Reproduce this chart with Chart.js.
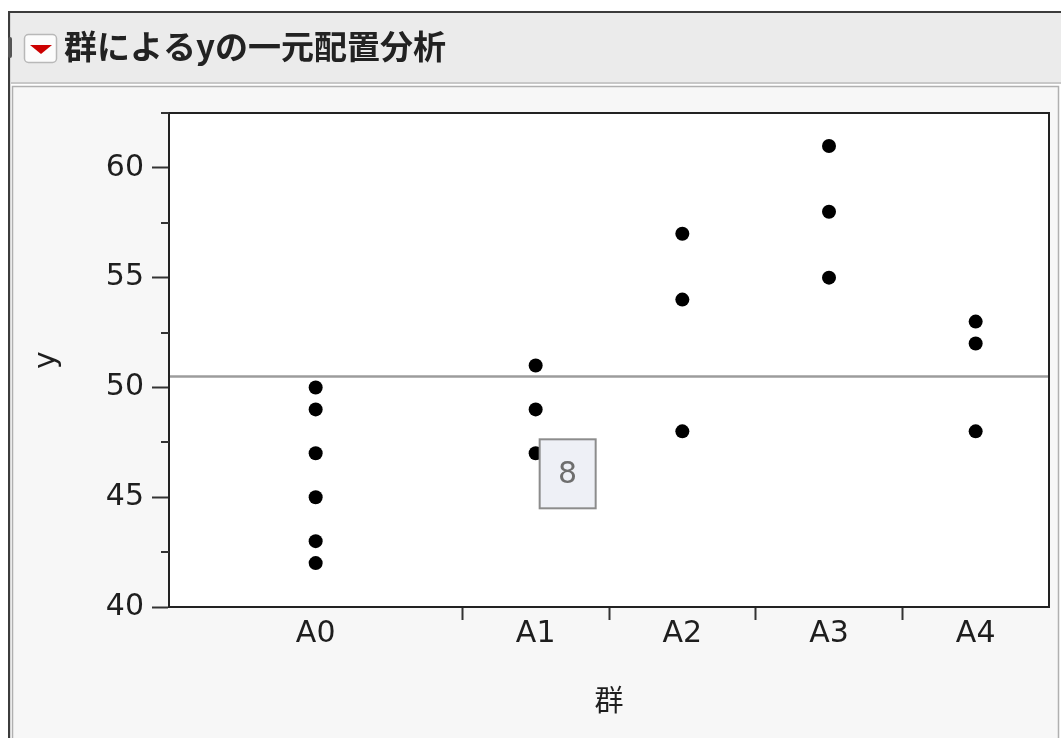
<!DOCTYPE html>
<html>
<head>
<meta charset="utf-8">
<script src="https://cdn.jsdelivr.net/npm/chart.js@4"></script>
<style>
  html, body { margin: 0; padding: 0; background: #ffffff; }
  canvas { display: block; }
</style>
</head>
<body>
<canvas id="c" width="1061" height="738"></canvas>
<script>
// ---- data ----
const groupNames = ['A0', 'A1', 'A2', 'A3', 'A4'];
const valuesA0 = [50, 49, 47, 45, 43, 42];
const valuesA1 = [51, 49, 47];
const valuesA2 = [57, 54, 48];
const valuesA3 = [61, 58, 55];
const valuesA4 = [53, 52, 48];
const yTickValues = [40, 45, 50, 55, 60];
const yMinorTickValues = [42.5, 47.5, 52.5, 57.5, 62.5];
const yMin = 40;
const yMax = 62.5;
const hoverGroup = 'A1';
const hoverValue = 47;
const hoverText = '8';
const titleText = '群によるyの一元配置分析';
const xTitleText = '群';
const yTitleText = 'y';

// ---- derived structures ----
const groupValues = [valuesA0, valuesA1, valuesA2, valuesA3, valuesA4];
const counts = groupValues.map(a => a.length);
const total = counts.reduce((s, n) => s + n, 0);
const starts = [];
let acc = 0;
counts.forEach(n => { starts.push(acc); acc += n; });
const centers = counts.map((n, i) => starts[i] + n / 2);
const boundaries = starts.slice(1);
const allValues = groupValues.flat();
const grandMean = allValues.reduce((s, v) => s + v, 0) / allValues.length;

const pointData = [];
groupValues.forEach((arr, i) => arr.forEach(v => pointData.push({ x: centers[i], y: v })));

const TICK_FONT = { family: 'DejaVu Sans', size: 30 };
const TEXT_COLOR = '#1e1e1e';

const framePlugin = {
  id: 'frame',
  beforeDraw(chart) {
    const ctx = chart.ctx;
    const W = chart.width, H = chart.height;
    ctx.save();
    ctx.fillStyle = '#ffffff';
    ctx.fillRect(0, 0, W, H);
    // title bar
    ctx.fillStyle = '#ebebeb';
    ctx.fillRect(10, 13, W - 10, 70);
    ctx.fillStyle = '#c8c8c8';
    ctx.fillRect(10, 82, W - 10, 2);
    // content panel
    ctx.fillStyle = '#f7f7f7';
    ctx.fillRect(12, 86, W - 14, H - 86);
    ctx.strokeStyle = '#b0b0b0';
    ctx.lineWidth = 1.5;
    ctx.beginPath();
    ctx.moveTo(12.5, H);
    ctx.lineTo(12.5, 86.5);
    ctx.lineTo(W - 2.5, 86.5);
    ctx.lineTo(W - 2.5, H);
    ctx.stroke();
    // outer dark border
    ctx.fillStyle = '#3c3c3c';
    ctx.fillRect(8, 11, W - 8, 2);
    ctx.fillRect(8, 11, 2, H - 11);
    ctx.fillStyle = '#d6d6d6';
    ctx.fillRect(10, 13, 1, H - 13);
    // small outline bracket at the left
    ctx.fillStyle = '#555555';
    ctx.beginPath();
    ctx.roundRect(8, 37, 4, 21, 2);
    ctx.fill();
    // disclosure button with red triangle
    ctx.fillStyle = '#fcfcfc';
    ctx.strokeStyle = '#b8b8b8';
    ctx.lineWidth = 1.5;
    ctx.beginPath();
    ctx.roundRect(24.5, 34.5, 32, 28, 4);
    ctx.fill();
    ctx.stroke();
    ctx.fillStyle = '#cc0000';
    ctx.beginPath();
    ctx.moveTo(30, 45);
    ctx.lineTo(52, 45);
    ctx.lineTo(41, 54);
    ctx.closePath();
    ctx.fill();
    // title text
    ctx.fillStyle = '#222222';
    ctx.font = 'bold 33px "Noto Sans CJK JP"';
    ctx.textBaseline = 'middle';
    ctx.textAlign = 'left';
    ctx.fillText(titleText, 64, 46);
    // plot background
    const a = chart.chartArea;
    ctx.fillStyle = '#ffffff';
    ctx.fillRect(a.left, a.top, a.right - a.left, a.bottom - a.top);
    ctx.restore();
  },
  afterDraw(chart) {
    const ctx = chart.ctx;
    const a = chart.chartArea;
    const ys = chart.scales.y;
    ctx.save();
    // plot frame
    ctx.strokeStyle = '#222222';
    ctx.lineWidth = 2;
    ctx.strokeRect(a.left, a.top, a.right - a.left, a.bottom - a.top);
    // minor y ticks
    ctx.strokeStyle = '#333333';
    yMinorTickValues.forEach(v => {
      const py = Math.round(ys.getPixelForValue(v));
      ctx.beginPath();
      ctx.moveTo(a.left - 8, py);
      ctx.lineTo(a.left, py);
      ctx.stroke();
    });
    // hover label box
    const xs = chart.scales.x;
    const gi = groupNames.indexOf(hoverGroup);
    const px = xs.getPixelForValue(centers[gi]);
    const py = ys.getPixelForValue(hoverValue);
    const bx = px + 4, by = py - 14, bw = 56, bh = 69;
    ctx.fillStyle = '#eef0f6';
    ctx.fillRect(bx, by, bw, bh);
    ctx.strokeStyle = '#8c8c8c';
    ctx.lineWidth = 2;
    ctx.strokeRect(bx, by, bw, bh);
    ctx.fillStyle = '#6e6e6e';
    ctx.font = '30px "DejaVu Sans"';
    ctx.textAlign = 'center';
    ctx.textBaseline = 'middle';
    ctx.fillText(hoverText, bx + bw / 2, by + bh / 2 + 1);
    ctx.restore();
  }
};

new Chart(document.getElementById('c'), {
  type: 'scatter',
  data: {
    datasets: [
      {
        label: 'y',
        data: pointData,
        pointRadius: 7,
        pointHoverRadius: 7,
        backgroundColor: '#000000',
        borderWidth: 0,
        order: 0
      },
      {
        type: 'line',
        label: 'mean',
        data: [{ x: 0, y: grandMean }, { x: total, y: grandMean }],
        borderColor: '#9c9c9c',
        borderWidth: 2.5,
        pointRadius: 0,
        order: 1
      }
    ]
  },
  options: {
    responsive: false,
    animation: false,
    events: [],
    layout: { padding: { left: 29, top: 113, right: 12, bottom: 21 } },
    plugins: {
      legend: { display: false },
      tooltip: { enabled: false },
      title: { display: false }
    },
    scales: {
      x: {
        type: 'linear',
        min: 0,
        max: total,
        position: 'bottom',
        afterBuildTicks: s => {
          s.ticks = [...boundaries, ...centers].sort((p, q) => p - q).map(v => ({ value: v }));
        },
        afterFit: s => { s.height = 110; },
        ticks: {
          autoSkip: false,
          maxRotation: 0,
          minRotation: 0,
          padding: -4,
          color: TEXT_COLOR,
          font: TICK_FONT,
          callback: v => {
            const i = centers.indexOf(v);
            return i >= 0 ? groupNames[i] : '';
          }
        },
        grid: {
          drawOnChartArea: false,
          drawTicks: true,
          tickLength: 13,
          tickWidth: 2,
          tickColor: c => (c.tick && boundaries.includes(c.tick.value)) ? '#333333' : 'rgba(0,0,0,0)'
        },
        border: { display: true, color: '#222222', width: 2 },
        title: {
          display: true,
          text: xTitleText,
          color: TEXT_COLOR,
          font: { family: 'Noto Sans CJK JP', size: 29 },
          padding: { top: 0, bottom: 0 }
        }
      },
      y: {
        type: 'linear',
        min: yMin,
        max: yMax,
        position: 'left',
        afterBuildTicks: s => { s.ticks = yTickValues.map(v => ({ value: v })); },
        afterFit: s => { s.width = 140; },
        ticks: {
          padding: 8,
          color: TEXT_COLOR,
          font: TICK_FONT
        },
        grid: {
          drawOnChartArea: false,
          drawTicks: true,
          tickLength: 17,
          tickWidth: 2,
          tickColor: '#333333'
        },
        border: { display: true, color: '#222222', width: 2 },
        title: {
          display: true,
          text: yTitleText,
          color: TEXT_COLOR,
          font: { family: 'DejaVu Sans', size: 30 },
          padding: { top: 0, bottom: 0 }
        }
      }
    }
  },
  plugins: [framePlugin]
});
</script>
</body>
</html>
